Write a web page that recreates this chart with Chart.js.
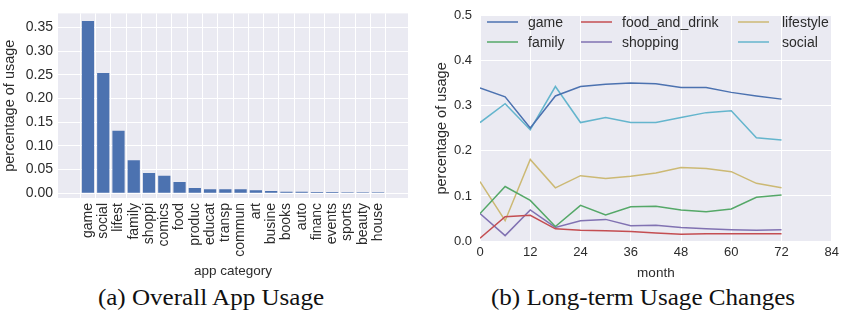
<!DOCTYPE html>
<html>
<head>
<meta charset="utf-8">
<script src="https://cdn.jsdelivr.net/npm/chart.js@4.4.0/dist/chart.umd.min.js"></script>
<style>
  body { margin: 0; background: #fff; width: 843px; height: 325px; position: relative; overflow: hidden; }
  #c1 { position: absolute; left: 0; top: 0; }
  #c2 { position: absolute; left: 420px; top: 0; }
  .cap { position: absolute; top: 285px; font-family: "Liberation Serif", serif; font-size: 23px; color: #111;
         transform: translateX(-50%) scaleX(1.09); white-space: nowrap; }
</style>
</head>
<body>
<canvas id="c1" width="420" height="285"></canvas>
<canvas id="c2" width="423" height="285"></canvas>
<div class="cap" style="left:211px">(a) Overall App Usage</div>
<div class="cap" style="left:643px">(b) Long-term Usage Changes</div>

<script>
// ---- overall usage by category ----
const categories = ['game', 'social', 'lifest', 'family', 'shoppi', 'comics', 'food', 'produc', 'educat', 'transp',
                    'commun', 'art', 'busine', 'books', 'auto', 'financ', 'events', 'sports', 'beauty', 'house'];
const usage = [0.364, 0.254, 0.132, 0.070, 0.043, 0.037, 0.024, 0.011, 0.0085, 0.0085,
               0.0085, 0.0065, 0.005, 0.003, 0.003, 0.0025, 0.0025, 0.002, 0.002, 0.002];
const usageTicks = [0, 0.05, 0.10, 0.15, 0.20, 0.25, 0.30, 0.35];

// ---- usage share over time, sampled every 6 months ----
const months = [0, 6, 12, 18, 24, 30, 36, 42, 48, 54, 60, 66, 72];
const game          = [0.340, 0.320, 0.251, 0.322, 0.343, 0.348, 0.351, 0.349, 0.341, 0.341, 0.330, 0.322, 0.315];
const family        = [0.061, 0.121, 0.090, 0.032, 0.079, 0.058, 0.076, 0.077, 0.069, 0.065, 0.071, 0.097, 0.102];
const foodAndDrink  = [0.006, 0.054, 0.057, 0.027, 0.024, 0.023, 0.021, 0.018, 0.015, 0.016, 0.016, 0.016, 0.016];
const shopping      = [0.061, 0.012, 0.069, 0.030, 0.045, 0.048, 0.034, 0.035, 0.030, 0.027, 0.025, 0.024, 0.025];
const lifestyle     = [0.132, 0.045, 0.181, 0.118, 0.145, 0.139, 0.144, 0.151, 0.163, 0.161, 0.154, 0.128, 0.118];
const social        = [0.263, 0.305, 0.247, 0.343, 0.263, 0.274, 0.263, 0.263, 0.274, 0.285, 0.289, 0.229, 0.224];
const monthTicks = [0, 12, 24, 36, 48, 60, 72, 84];
const shareTicks = [0, 0.1, 0.2, 0.3, 0.4, 0.5];

const FONT = '"Liberation Sans", Arial, sans-serif';
const INK = '#2b2b2b';
const PANEL = '#EAEAF2';

// fills the plotting area with the panel colour before anything else draws
const panelBg = {
  id: 'panelBg',
  beforeDraw(chart) {
    const { ctx, chartArea: a } = chart;
    ctx.save();
    ctx.fillStyle = PANEL;
    ctx.fillRect(a.left, a.top, a.right - a.left, a.bottom - a.top);
    ctx.restore();
  }
};

const fixedTicks = (values) => (scale) => { scale.ticks = values.map(v => ({ value: v })); };
const fixedWidth = (w) => (scale) => { scale.width = w; };
const fixedHeight = (h) => (scale) => { scale.height = h; };

Chart.defaults.font.family = FONT;
Chart.defaults.color = INK;

// ---- bar chart ----
new Chart(document.getElementById('c1'), {
  type: 'bar',
  data: {
    datasets: [{
      data: categories.map((c, i) => ({ x: i, y: usage[i] })),
      backgroundColor: '#4C72B0',
      borderWidth: 0,
      barPercentage: 0.8,
      categoryPercentage: 1.0
    }]
  },
  options: {
    responsive: false,
    animation: false,
    devicePixelRatio: 1,
    layout: { padding: { top: 4, right: 12, left: 0, bottom: 0 } },
    plugins: { legend: { display: false }, tooltip: { enabled: false } },
    scales: {
      x: {
        type: 'linear',
        min: -1.39,
        max: 20.39,
        afterBuildTicks: fixedTicks(categories.map((c, i) => i)),
        afterFit: fixedHeight(87),
        grid: { color: '#ffffff', lineWidth: 1, drawTicks: false },
        border: { display: false },
        ticks: {
          autoSkip: false,
          maxRotation: 90,
          minRotation: 90,
          padding: 5,
          font: { size: 14 },
          callback: (v) => categories[v]
        },
        title: { display: true, text: 'app category', font: { size: 13.5 }, padding: { top: 0, bottom: 6 } }
      },
      y: {
        min: -0.01,
        max: 0.38,
        afterBuildTicks: fixedTicks(usageTicks),
        afterFit: fixedWidth(58),
        grid: { color: '#ffffff', lineWidth: 1, drawTicks: false },
        border: { display: false },
        ticks: { padding: 5, font: { size: 14 }, callback: (v) => v.toFixed(2) },
        title: { display: true, text: 'percentage of usage', font: { size: 14.5 }, padding: { top: 1, bottom: 0 } }
      }
    }
  },
  plugins: [panelBg]
});

// legend laid out in three columns inside the plot area
const columnLegend = {
  id: 'columnLegend',
  afterDraw(chart) {
    const { ctx } = chart;
    const cols = [{ line: 67, text: 108 }, { line: 161, text: 202 }, { line: 318, text: 362 }];
    const rows = [22, 42];
    ctx.save();
    ctx.font = '14px ' + FONT;
    ctx.textBaseline = 'middle';
    ctx.textAlign = 'left';
    chart.data.datasets.forEach((ds, i) => {
      const c = cols[Math.floor(i / 2)];
      const y = rows[i % 2];
      ctx.strokeStyle = ds.borderColor;
      ctx.lineWidth = 1.5;
      ctx.beginPath();
      ctx.moveTo(c.line, y);
      ctx.lineTo(c.line + 31, y);
      ctx.stroke();
      ctx.fillStyle = INK;
      ctx.fillText(ds.label, c.text, y + 1);
    });
    ctx.restore();
  }
};

const series = [
  ['game', game, '#4C72B0'],
  ['family', family, '#55A868'],
  ['food_and_drink', foodAndDrink, '#C44E52'],
  ['shopping', shopping, '#8172B2'],
  ['lifestyle', lifestyle, '#CCB974'],
  ['social', social, '#64B5CD']
];

// ---- line chart ----
new Chart(document.getElementById('c2'), {
  type: 'line',
  data: {
    datasets: series.map(([label, vals, color]) => ({
      label,
      data: months.map((m, i) => ({ x: m, y: vals[i] })),
      borderColor: color,
      backgroundColor: color,
      borderWidth: 1.5,
      pointRadius: 0,
      tension: 0,
      fill: false
    }))
  },
  options: {
    responsive: false,
    animation: false,
    devicePixelRatio: 1,
    layout: { padding: { top: 10, right: 8, left: 0, bottom: 0 } },
    plugins: { legend: { display: false }, tooltip: { enabled: false } },
    scales: {
      x: {
        type: 'linear',
        min: 0,
        max: 84,
        afterBuildTicks: fixedTicks(monthTicks),
        afterFit: fixedHeight(44),
        grid: { color: '#ffffff', lineWidth: 1, drawTicks: false },
        border: { display: false },
        ticks: { padding: 4, font: { size: 13 } },
        title: { display: true, text: 'month', font: { size: 13.5 }, padding: { top: 0, bottom: 4 } }
      },
      y: {
        min: 0,
        max: 0.5,
        afterBuildTicks: fixedTicks(shareTicks),
        afterFit: fixedWidth(60),
        grid: { color: '#ffffff', lineWidth: 1, drawTicks: false },
        border: { display: false },
        ticks: { padding: 8, font: { size: 13 }, callback: (v) => v.toFixed(1) },
        title: { display: true, text: 'percentage of usage', font: { size: 14.5 }, padding: { top: 13, bottom: 0 } }
      }
    }
  },
  plugins: [panelBg, columnLegend]
});
</script>
</body>
</html>
